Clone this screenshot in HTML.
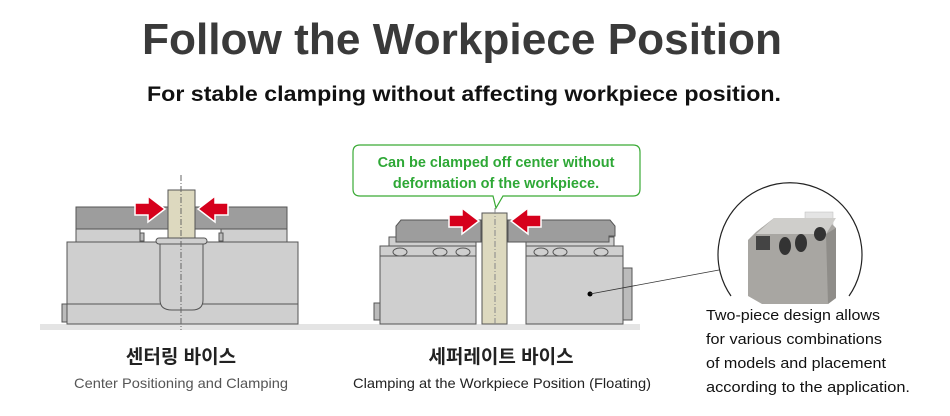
<!DOCTYPE html>
<html><head><meta charset="utf-8"><style>
body{margin:0;background:#fff;width:950px;height:411px;overflow:hidden}
text{font-family:"Liberation Sans","Noto Sans CJK KR",sans-serif}
</style></head><body>
<svg width="950" height="411" viewBox="0 0 950 411" xmlns="http://www.w3.org/2000/svg">
<text x="462" y="54" text-anchor="middle" font-size="44" font-weight="bold" fill="#3a3a3a" textLength="640" lengthAdjust="spacingAndGlyphs">Follow the Workpiece Position</text>
<text x="464" y="101" text-anchor="middle" font-size="21" font-weight="bold" fill="#111" textLength="634" lengthAdjust="spacingAndGlyphs">For stable clamping without affecting workpiece position.</text>
<rect x="40" y="324" width="600" height="6" fill="#e4e4e4"/>
<g stroke="#555" stroke-width="1">
<rect x="62" y="304" width="5" height="18" fill="#bbb"/>
<rect x="67" y="242" width="231" height="82" fill="#cfcfcf"/>
<line x1="67" y1="304" x2="298" y2="304"/>
<rect x="76" y="229" width="64" height="13" fill="#cfcfcf"/>
<rect x="221" y="229" width="66" height="13" fill="#cfcfcf"/>
<rect x="140" y="233" width="4" height="8" fill="#bbb"/>
<rect x="219" y="233" width="4" height="8" fill="#bbb"/>
<rect x="76" y="207" width="92" height="22" fill="#9d9d9d"/>
<rect x="195" y="207" width="92" height="22" fill="#9d9d9d"/>
<path d="M160 244 V300 Q160 310 172 310 H192 Q203 310 203 300 V244" fill="#cfcfcf"/>
<rect x="156" y="238" width="51" height="6" rx="3" fill="#cfcfcf"/>
<rect x="168" y="190" width="27" height="48" fill="#ddd9bf"/>
<rect x="374" y="303" width="6" height="17" fill="#bbb"/>
<rect x="380" y="246" width="96" height="78" fill="#cfcfcf"/>
<rect x="380" y="246" width="96" height="10" fill="#cfcfcf"/>
<rect x="526" y="246" width="97" height="78" fill="#cfcfcf"/>
<rect x="526" y="246" width="97" height="10" fill="#cfcfcf"/>
<rect x="623" y="268" width="9" height="52" fill="#bbb"/>
<rect x="389" y="237" width="87" height="9" fill="#cfcfcf"/>
<rect x="526" y="237" width="88" height="9" fill="#cfcfcf"/>
<path d="M396 242 V226 L401 220 H481 V242 Z" fill="#9d9d9d"/>
<path d="M508 242 V220 H610 L615 226 V236 L609 236 V242 Z" fill="#9d9d9d"/>
<g fill="#cfcfcf"><ellipse cx="400" cy="252" rx="7" ry="4"/><ellipse cx="440" cy="252" rx="7" ry="4"/><ellipse cx="463" cy="252" rx="7" ry="4"/><ellipse cx="541" cy="252" rx="7" ry="4"/><ellipse cx="560" cy="252" rx="7" ry="4"/><ellipse cx="601" cy="252" rx="7" ry="4"/></g>
<rect x="482" y="213" width="25" height="111" fill="#ddd9bf"/>
</g>
<line x1="181" y1="175" x2="181" y2="330" stroke="#666" stroke-dasharray="6,2,1,2"/>
<line x1="495" y1="208" x2="495" y2="324" stroke="#888" stroke-dasharray="6,2,1,2"/>
<g fill="#d6001c" stroke="#fff" stroke-width="1.5">
<path d="M135 203 H148 V196 L165 209 L148 222 V215 H135 Z"/>
<path d="M228 203 H215 V196 L198 209 L215 222 V215 H228 Z"/>
<path d="M449 215 H462 V208 L479 221 L462 234 V227 H449 Z"/>
<path d="M541 215 H528 V208 L511 221 L528 234 V227 H541 Z"/>
</g>
<path d="M360 145 H633 Q640 145 640 152 V189 Q640 196 633 196 H503 L496 208 L493 196 H360 Q353 196 353 189 V152 Q353 145 360 145 Z" fill="#fff" stroke="#3aaa35" stroke-width="1.2"/>
<text x="496" y="167" text-anchor="middle" font-size="14.5" font-weight="bold" fill="#2ea836">Can be clamped off center without</text>
<text x="496" y="188" text-anchor="middle" font-size="14.5" font-weight="bold" fill="#2ea836">deformation of the workpiece.</text>
<circle cx="590" cy="294" r="2.5" fill="#000"/>
<line x1="590" y1="294" x2="719" y2="270" stroke="#333" stroke-width="0.8"/>
<path d="M731 296 A72 72 0 1 1 849 296" fill="none" stroke="#222" stroke-width="1.2"/>
<g>
<rect x="805" y="212" width="28" height="14" fill="#e4e4e4" stroke="#bbb" stroke-width="0.5"/>
<path d="M756 232 L774 218 H826 L836 228 V298 L828 304 H762 L748 296 V240 Z" fill="#a8a6a2"/>
<path d="M826 234 L836 228 V298 L828 304 Z" fill="#8f8d89"/>
<path d="M756 234 L774 218 H836 L826 234 Z" fill="#cfcecb"/>
<ellipse cx="785" cy="246" rx="6" ry="9" fill="#333"/>
<ellipse cx="801" cy="243" rx="6" ry="9" fill="#333"/>
<ellipse cx="820" cy="234" rx="6" ry="7" fill="#333"/>
<rect x="756" y="236" width="14" height="14" fill="#444"/>
</g>
<g font-size="14.5" fill="#111">
<text x="706" y="320" textLength="174" lengthAdjust="spacingAndGlyphs">Two-piece design allows</text>
<text x="706" y="344" textLength="176" lengthAdjust="spacingAndGlyphs">for various combinations</text>
<text x="706" y="368" textLength="180" lengthAdjust="spacingAndGlyphs">of models and placement</text>
<text x="706" y="392" textLength="204" lengthAdjust="spacingAndGlyphs">according to the application.</text>
</g>
<text x="181" y="363" text-anchor="middle" font-size="19" font-weight="bold" fill="#222">센터링 바이스</text>
<text x="181" y="388" text-anchor="middle" font-size="14" fill="#555" textLength="214" lengthAdjust="spacingAndGlyphs">Center Positioning and Clamping</text>
<text x="501" y="363" text-anchor="middle" font-size="19" font-weight="bold" fill="#222">세퍼레이트 바이스</text>
<text x="502" y="388" text-anchor="middle" font-size="14" fill="#222" textLength="298" lengthAdjust="spacingAndGlyphs">Clamping at the Workpiece Position (Floating)</text>
</svg>
</body></html>
